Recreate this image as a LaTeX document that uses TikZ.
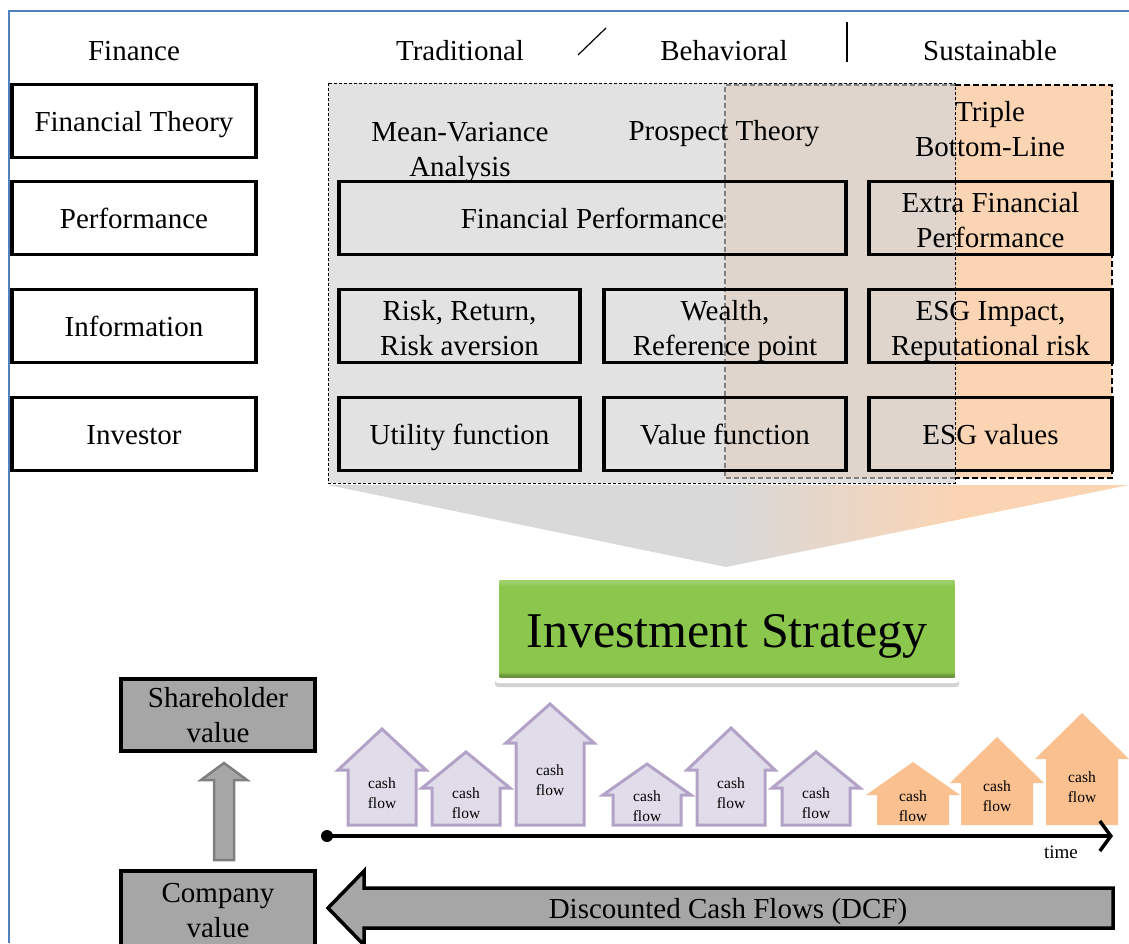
\documentclass[tikz,border=0pt]{standalone}
\usepackage{fontspec}
\setmainfont{Liberation Serif}
\usepackage{tikz}
\usetikzlibrary{arrows.meta,shadows,calc}
\usepackage{xcolor}

\definecolor{frameblue}{HTML}{4F81BD}
\definecolor{tradgray}{HTML}{E2E2E2}
\definecolor{behavbeige}{HTML}{E0D5CC}
\definecolor{sustorange}{HTML}{FBD4B4}
\definecolor{funnelgray}{HTML}{D9D9D9}
\definecolor{valgray}{HTML}{A6A6A6}
\definecolor{upgray}{HTML}{7F7F7F}
\definecolor{cfpurple}{HTML}{E1DCEA}
\definecolor{cfline}{HTML}{B3A2C7}
\definecolor{cforange}{HTML}{FAC090}
\definecolor{stratgreen}{HTML}{8CC74D}

\newcommand\mainfs{\fontsize{29}{35}\selectfont}
\newcommand\cashfs{\fontsize{15.5}{20}\selectfont}
\newcommand\txtstrut{\rule[-7pt]{0pt}{35pt}}
\newcommand\topstrut{\rule{0pt}{30pt}}
\newcommand\bigstrut{\rule[-11pt]{0pt}{58pt}}
\pgfdeclarehorizontalshading{funnelshade}{100bp}{color(0bp)=(funnelgray); color(50bp)=(funnelgray); color(64.5bp)=(sustorange); color(100bp)=(sustorange)}
\pgfdeclareverticalshading{stratshade}{100bp}{color(0bp)=(stratgreen!75!black); color(26bp)=(stratgreen!75!black); color(28bp)=(stratgreen); color(72bp)=(stratgreen); color(74bp)=(stratgreen!85!white); color(100bp)=(stratgreen!85!white)}

\tikzset{
	strutted/.style={execute at begin node=\txtstrut},
	rowbox/.style={draw,line width=3.5pt,fill=white,minimum width=244pt,minimum height=73pt,font=\mainfs,align=center,inner sep=0pt,strutted},
	cellbox/.style={draw,line width=3.5pt,minimum width=242pt,minimum height=73pt,font=\mainfs,align=center,inner sep=0pt,strutted},
	headtxt/.style={font=\mainfs,align=center,inner sep=0pt,strutted},
	valbox/.style={draw,line width=3.5pt,fill=valgray,minimum width=194pt,minimum height=72pt,font=\mainfs,align=center,inner sep=0pt},
	cashtxt/.style={font=\cashfs,align=center,inner sep=0pt},
	cfarrow/.style={draw=cfline,line width=3pt,fill=cfpurple},
	cfarrowsus/.style={fill=cforange},
	blockarrow/.style={draw,line width=3.5pt,fill=valgray},
	uparrow/.style={draw=upgray,line width=2.5pt,fill=valgray}
}

\begin{document}
\begin{tikzpicture}[x=1pt,y=-1pt]
	\useasboundingbox (0,0) rectangle (1129,943);
	\draw[frameblue,line width=2pt] (1129,11) -- (9,11) -- (9,943);

	\node[headtxt] (hfin) at (134,50) {Finance};
	\node[headtxt] (htrad) at (460,50) {Traditional};
	\node[headtxt] (hbeh) at (724,50) {Behavioral};
	\node[headtxt] (hsus) at (990,50) {Sustainable};
	\draw[line width=1.2pt] (578,55) -- (606,28);
	\draw[line width=2pt] (847,22) -- (847,62);

	\fill[tradgray] (328,83) rectangle (955,483);
	\fill[behavbeige] (725,85) rectangle (955,478);
	\fill[sustorange] (955,85) rectangle (1112,478);
	\draw[line width=0.8pt,dash pattern=on 3pt off 2pt] (328,83) rectangle (955,483);
	\draw[gray,line width=1.5pt,dash pattern=on 5pt off 3pt] (955,85) -- (725,85) -- (725,478) -- (955,478);
	\draw[line width=2.5pt,dash pattern=on 6pt off 3pt] (955,85) -- (1112,85) -- (1112,478) -- (955,478);
	\shade[shading=funnelshade] (328,485) -- (1129,485) -- (726,567) -- cycle;

	\node[rowbox] (ft) at (134,121) {Financial Theory};
	\node[rowbox] (perf) at (134,218) {Performance};
	\node[rowbox] (info) at (134,326) {Information};
	\node[rowbox] (inv) at (134,434) {Investor};

	\node[headtxt] (mv) at (460,147) {\topstrut Mean-Variance\\Analysis};
	\node[headtxt] (pt) at (724,130) {Prospect Theory};
	\node[headtxt] (tbl) at (990,127) {\topstrut Triple\\Bottom-Line};

	\node[cellbox,minimum width=507pt] (finperf) at (592.5,218) {Financial Performance};
	\node[cellbox,minimum width=243pt] (extra) at (990.5,218) {\topstrut Extra Financial\\Performance};
	\node[cellbox,minimum width=241pt] (risk) at (459.5,326) {\topstrut Risk, Return,\\Risk aversion};
	\node[cellbox] (wealth) at (725,326) {\topstrut Wealth,\\Reference point};
	\node[cellbox,minimum width=243pt] (esgimp) at (990.5,326) {\topstrut ESG Impact,\\Reputational risk};
	\node[cellbox,minimum width=241pt] (util) at (459.5,434) {Utility function};
	\node[cellbox] (valfn) at (725,434) {Value function};
	\node[cellbox,minimum width=243pt] (esgval) at (990.5,434) {ESG values};

	\node[fill=white,rounded corners=3pt,minimum width=464pt,minimum height=108pt,drop shadow={opacity=0.35,shadow xshift=0pt,shadow yshift=-4pt}] (stratframe) at (727,629) {};
	\node[shading=stratshade,minimum width=455pt,minimum height=97pt,inner sep=0pt,font=\fontsize{50}{60}\selectfont,execute at begin node=\bigstrut] (strat) at (727,629) {Investment Strategy};

	\foreach \cx/\tip/\sh/\ty [count=\i] in {382/729/770/793,466/752/788/803,550/704/743/780,647/764/795/806,731/728/770/793,816/752/788/803}{
		\draw[cfarrow] (\cx-34,825) -- (\cx-34,\sh) -- (\cx-44,\sh) -- (\cx,\tip) -- (\cx+44,\sh) -- (\cx+34,\sh) -- (\cx+34,825) -- cycle;
		\node[cashtxt] (cf\i) at (\cx,\ty) {cash\\flow};
	}
	\foreach \cx/\tip/\sh/\ty [count=\i] in {913/762/795/806,997/737/783/796,1082/713/759/787}{
		\fill[cfarrowsus] (\cx-36,825) -- (\cx-36,\sh) -- (\cx-47,\sh) -- (\cx,\tip) -- (\cx+47,\sh) -- (\cx+36,\sh) -- (\cx+36,825) -- cycle;
		\node[cashtxt] (cfs\i) at (\cx,\ty) {cash\\flow};
	}

	\node[circle,fill,inner sep=0pt,minimum size=12pt] (t0) at (327,836) {};
	\coordinate (tend) at (1113,836);
	\draw[line width=3.5pt,-{Straight Barb[length=11pt,width=30pt]}] (t0.center) -- (tend);
	\node[font=\fontsize{19}{22}\selectfont] (timelbl) at (1061,852) {time};

	\node[valbox] (shv) at (218,715) {Shareholder\\value};
	\node[valbox,minimum height=80pt] (cov) at (218,911) {Company\\value};
	\coordinate (upfoot) at (224,860);
	\draw[uparrow] (upfoot) ++(-10,0) -- ++(0,-80) -- ++(-13,0) -- ++(23,-17) -- ++(23,17) -- ++(-13,0) -- ++(0,80) -- cycle;

	\coordinate (dcftail) at (1113,908);
	\draw[blockarrow] (dcftail) ++(0,-20) -- ++(-749,0) -- ++(0,-17) -- ++(-36,37) -- ++(36,37) -- ++(0,-17) -- ++(749,0) -- cycle;
	\node[headtxt] (dcf) at (728,908) {Discounted Cash Flows (DCF)};
\end{tikzpicture}
\end{document}
